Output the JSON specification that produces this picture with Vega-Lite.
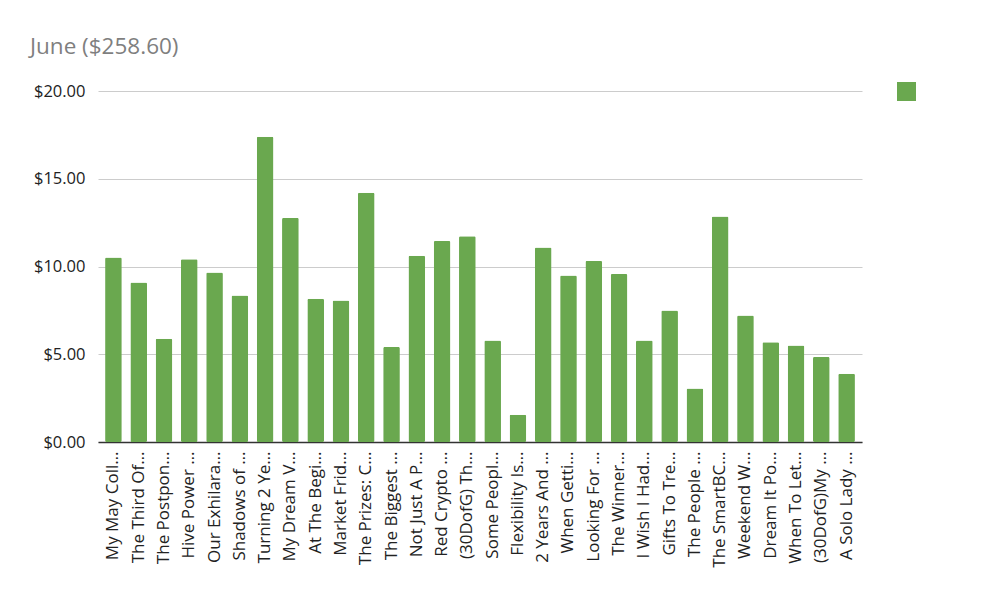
{
  "$schema": "https://vega.github.io/schema/vega-lite/v6.json",
  "width": 764,
  "height": 351,
  "autosize": {"type": "none"},
  "padding": {"left": 98, "top": 91, "right": 126, "bottom": 166},
  "background": "white",
  "title": {
    "text": "June ($258.60)",
    "anchor": "start",
    "frame": "group",
    "dx": -68,
    "offset": 24,
    "fontSize": 22.5,
    "font": "Open Sans",
    "fontWeight": "normal",
    "color": "#7f7f7f"
  },
  "data": {
    "values": [
      {"post": "My May Coll…", "series": "June", "amount": 10.51},
      {"post": "The Third Of…", "series": "June", "amount": 9.09},
      {"post": "The Postpon…", "series": "June", "amount": 5.88},
      {"post": "Hive Power …", "series": "June", "amount": 10.42},
      {"post": "Our Exhilara…", "series": "June", "amount": 9.66},
      {"post": "Shadows of …", "series": "June", "amount": 8.35},
      {"post": "Turning 2 Ye…", "series": "June", "amount": 17.4},
      {"post": "My Dream V…", "series": "June", "amount": 12.77},
      {"post": "At The Begi…", "series": "June", "amount": 8.16},
      {"post": "Market Frid…", "series": "June", "amount": 8.06},
      {"post": "The Prizes: C…", "series": "June", "amount": 14.2},
      {"post": "The Biggest …", "series": "June", "amount": 5.41},
      {"post": "Not Just A P…", "series": "June", "amount": 10.61},
      {"post": "Red Crypto …", "series": "June", "amount": 11.45},
      {"post": "(30DofG) Th…", "series": "June", "amount": 11.73},
      {"post": "Some Peopl…", "series": "June", "amount": 5.79},
      {"post": "Flexibility Is…", "series": "June", "amount": 1.55},
      {"post": "2 Years And …", "series": "June", "amount": 11.08},
      {"post": "When Getti…", "series": "June", "amount": 9.49},
      {"post": "Looking For …", "series": "June", "amount": 10.32},
      {"post": "The Winner…", "series": "June", "amount": 9.57},
      {"post": "I Wish I Had…", "series": "June", "amount": 5.79},
      {"post": "Gifts To Tre…", "series": "June", "amount": 7.49},
      {"post": "The People …", "series": "June", "amount": 3.05},
      {"post": "The SmartBC…", "series": "June", "amount": 12.85},
      {"post": "Weekend W…", "series": "June", "amount": 7.21},
      {"post": "Dream It Po…", "series": "June", "amount": 5.69},
      {"post": "When To Let…", "series": "June", "amount": 5.5},
      {"post": "(30DofG)My …", "series": "June", "amount": 4.84},
      {"post": "A Solo Lady …", "series": "June", "amount": 3.89}
    ]
  },
  "mark": {"type": "bar", "cornerRadius": 1.5},
  "encoding": {
    "x": {
      "field": "post",
      "type": "nominal",
      "sort": null,
      "scale": {"paddingInner": 0.34, "paddingOuter": 0.28},
      "axis": {
        "title": null,
        "labelAngle": -90,
        "labelFont": "Open Sans",
        "labelFontSize": 17,
        "labelColor": "#222222",
        "labelPadding": 9,
        "labelLimit": 200,
        "ticks": false,
        "domainColor": "#333333",
        "domainWidth": 1.5,
        "grid": false
      }
    },
    "y": {
      "field": "amount",
      "type": "quantitative",
      "scale": {"domain": [0, 20]},
      "axis": {
        "title": null,
        "values": [0, 5, 10, 15, 20],
        "format": "$.2f",
        "labelFont": "Open Sans",
        "labelFontSize": 16.5,
        "labelColor": "#222222",
        "labelPadding": 13,
        "ticks": false,
        "domain": false,
        "gridColor": "#cccccc",
        "gridWidth": 1
      }
    },
    "color": {
      "field": "series",
      "type": "nominal",
      "scale": {"range": ["#6aa84f"]},
      "legend": {
        "title": null,
        "orient": "none",
        "legendX": 799,
        "legendY": -9,
        "symbolType": "square",
        "symbolSize": 361,
        "symbolStrokeWidth": 0,
        "labelExpr": "''"
      }
    }
  },
  "config": {"view": {"stroke": null}}
}
